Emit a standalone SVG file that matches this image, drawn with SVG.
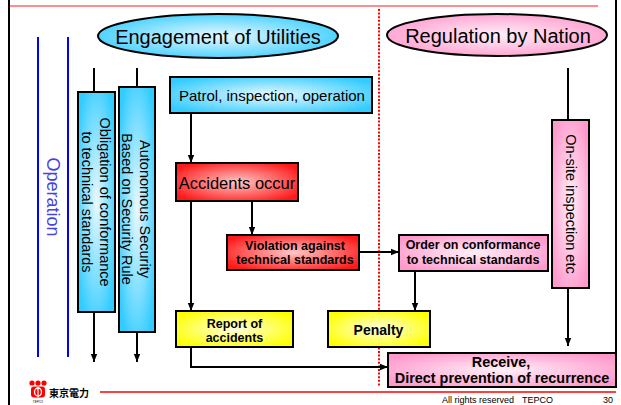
<svg xmlns="http://www.w3.org/2000/svg" width="621" height="405" viewBox="0 0 621 405">
<defs>
<radialGradient id="gCyan" cx="50%" cy="50%" r="60%">
<stop offset="0" stop-color="#EAF9FF"/>
<stop offset="1" stop-color="#33CCFF"/>
</radialGradient>
<radialGradient id="gPink" cx="50%" cy="50%" r="60%">
<stop offset="0" stop-color="#FFF0F8"/>
<stop offset="1" stop-color="#FF99CC"/>
</radialGradient>
<radialGradient id="gRed" cx="50%" cy="50%" r="60%">
<stop offset="0" stop-color="#FFC8C8"/>
<stop offset="1" stop-color="#FF1A1A"/>
</radialGradient>
<radialGradient id="gYellow" cx="50%" cy="50%" r="60%">
<stop offset="0" stop-color="#FFFFE0"/>
<stop offset="1" stop-color="#FFFF00"/>
</radialGradient>
<marker id="arr" markerUnits="userSpaceOnUse" markerWidth="8" markerHeight="8" viewBox="0 0 8 8" refX="8" refY="4" orient="auto">
<path d="M0,0.8 L8,4 L0,7.2 z" fill="#000"/>
</marker>
</defs>
<style>
.box{stroke:#000;stroke-width:2}
.t{font-family:"Liberation Sans",Arial,sans-serif;fill:#000;text-anchor:middle}
.b{font-weight:bold}
.c{fill:none;stroke:#000;stroke-width:2}
</style>

<g id="frame">
<line x1="9" y1="0" x2="9" y2="405" stroke="#000" stroke-width="2"/>
<line x1="616" y1="0" x2="616" y2="388" stroke="#000" stroke-width="2"/>
<line x1="10" y1="6" x2="598" y2="6" stroke="#FF6666" stroke-width="1.5"/>
<line x1="100" y1="392" x2="616" y2="392" stroke="#FF0000" stroke-width="1.5"/>
<line x1="379" y1="9" x2="379" y2="386" stroke="#FF0000" stroke-width="2" stroke-dasharray="2,1.6"/>
<line x1="38" y1="37" x2="38" y2="357" stroke="#0000FF" stroke-width="2"/>
<line x1="68" y1="37" x2="68" y2="357" stroke="#0000FF" stroke-width="2"/>
<text class="t" transform="translate(47,197) rotate(90)" x="0" y="0" font-size="18" style="fill:#4444DD">Operation</text>
</g>

<g id="connectors">
<line class="c" x1="94" y1="68" x2="94" y2="92"/>
<line class="c" x1="137" y1="68" x2="137" y2="87"/>
<line class="c" x1="94" y1="312" x2="94" y2="362" marker-end="url(#arr)"/>
<line class="c" x1="137" y1="332" x2="137" y2="362" marker-end="url(#arr)"/>
<line class="c" x1="191" y1="113" x2="191" y2="163" marker-end="url(#arr)"/>
<line class="c" x1="191" y1="201" x2="191" y2="311" marker-end="url(#arr)"/>
<line class="c" x1="252" y1="201" x2="252" y2="235" marker-end="url(#arr)"/>
<line class="c" x1="359" y1="252" x2="399" y2="252" marker-end="url(#arr)"/>
<line class="c" x1="415" y1="271" x2="415" y2="311" marker-end="url(#arr)"/>
<polyline class="c" points="191,347 191,367 388,367" marker-end="url(#arr)"/>
<line class="c" x1="568" y1="68" x2="568" y2="120"/>
<line class="c" x1="568" y1="288" x2="568" y2="346" marker-end="url(#arr)"/>
</g>

<g id="engagement">
<ellipse cx="218" cy="36" rx="120" ry="22" fill="url(#gCyan)" class="box"/>
<text class="t" x="218" y="44" font-size="20">Engagement of Utilities</text>
</g>

<g id="regulation">
<ellipse cx="497" cy="35" rx="110" ry="21" fill="url(#gPink)" class="box"/>
<text class="t" x="498" y="43" font-size="20">Regulation by Nation</text>
</g>

<g id="obligation">
<rect x="78" y="92" width="37" height="220" fill="url(#gCyan)" class="box"/>
<text class="t" transform="translate(96.5,202) rotate(90)" font-size="14.5"><tspan x="0" y="-3">Obligation of conformance</tspan><tspan x="0" y="15">to technical standards</tspan></text>
</g>

<g id="autonomous">
<rect x="119" y="87" width="36" height="245" fill="url(#gCyan)" class="box"/>
<text class="t" transform="translate(137,209) rotate(90)" font-size="14.5"><tspan x="0" y="-3">Autonomous Security</tspan><tspan x="0" y="15">Based on Security Rule</tspan></text>
</g>

<g id="patrol">
<rect x="170" y="77" width="202" height="36" fill="url(#gCyan)" class="box"/>
<text class="t" x="272" y="101" font-size="15">Patrol, inspection, operation</text>
</g>

<g id="accidents">
<rect x="176" y="163" width="122" height="38" fill="url(#gRed)" class="box"/>
<text class="t" x="237" y="189" font-size="16.5">Accidents occur</text>
</g>

<g id="violation">
<rect x="227" y="235" width="132" height="35" fill="url(#gRed)" class="box"/>
<text class="t b" font-size="12.5"><tspan x="295" y="250">Violation against</tspan><tspan x="295" y="264">technical standards</tspan></text>
</g>

<g id="order">
<rect x="399" y="235" width="149" height="36" fill="url(#gPink)" class="box"/>
<text class="t b" font-size="12.5"><tspan x="473" y="249">Order on conformance</tspan><tspan x="473" y="264">to technical standards</tspan></text>
</g>

<g id="report">
<rect x="176" y="311" width="117" height="36" fill="url(#gYellow)" class="box"/>
<text class="t b" font-size="12.5"><tspan x="234.5" y="328">Report of</tspan><tspan x="234.5" y="342">accidents</tspan></text>
</g>

<g id="penalty">
<rect x="328" y="311" width="102" height="36" fill="url(#gYellow)" class="box"/>
<text class="t b" x="378.5" y="335" font-size="14">Penalty</text>
</g>

<g id="onsite">
<rect x="552" y="120" width="37" height="168" fill="url(#gPink)" class="box"/>
<text class="t" transform="translate(570.5,204) rotate(90)" x="0" y="5" font-size="14.5">On-site inspection etc</text>
</g>

<g id="receive">
<rect x="388" y="353" width="228" height="34" fill="url(#gPink)" class="box"/>
<text class="t b" font-size="14.4"><tspan x="501" y="367">Receive,</tspan><tspan x="502" y="383">Direct prevention of recurrence</tspan></text>
</g>

<g id="footer">
<circle cx="32" cy="383" r="2.6" fill="#FF0000"/>
<circle cx="38" cy="383" r="2.6" fill="#FF0000"/>
<circle cx="44" cy="383" r="2.6" fill="#FF0000"/>
<rect x="31" y="386.5" width="14" height="11" rx="3" fill="#FF0000"/>
<ellipse cx="38" cy="392" rx="3.5" ry="4" fill="none" stroke="#FFFFFF" stroke-width="1.3"/>
<line x1="38" y1="387" x2="38" y2="397" stroke="#FFFFFF" stroke-width="1.2"/>
<text x="38" y="403" font-size="3" font-family="Liberation Sans,sans-serif" text-anchor="middle" fill="#000">TEPCO</text>
<text x="49" y="397" font-size="10" font-weight="bold" font-family="Noto Sans CJK JP,sans-serif" fill="#000">東京電力</text>
<text x="442" y="403" font-size="9" font-family="Liberation Sans,sans-serif" fill="#000">All rights reserved</text>
<text x="522" y="403" font-size="9" font-family="Liberation Sans,sans-serif" fill="#000">TEPCO</text>
<text x="603" y="403" font-size="9" font-family="Liberation Sans,sans-serif" fill="#000">30</text>
</g>
</svg>
